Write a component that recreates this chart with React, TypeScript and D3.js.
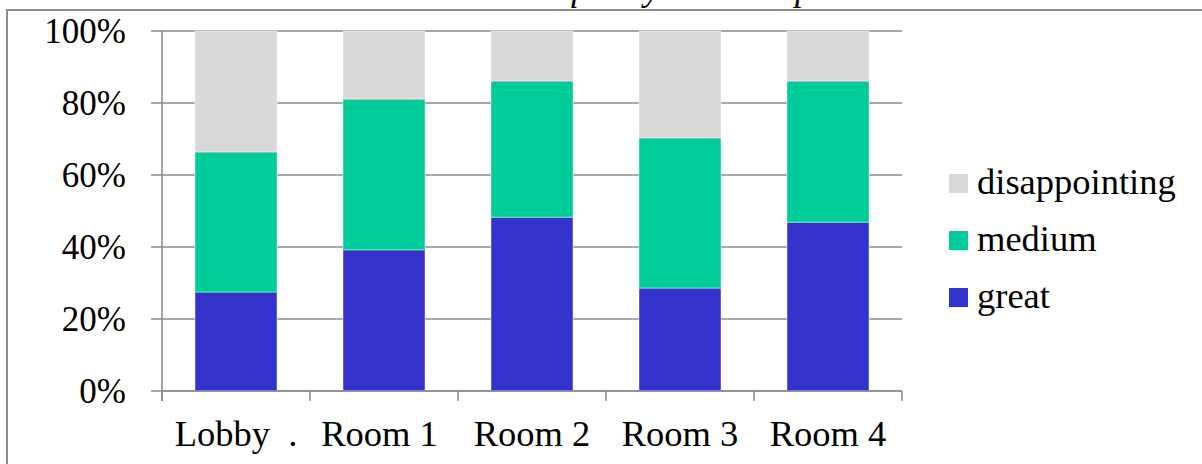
import React from "react";
import * as d3 from "d3";

const categories = ["Lobby  .", "Room 1 ", "Room 2", "Room 3", "Room 4"];
const seriesNames = ["great", "medium", "disappointing"];
const great = [27.5, 39.2, 48.3, 28.6, 46.9];
const medium = [38.9, 41.9, 37.8, 41.7, 39.2];
const disappointing = [33.6, 18.9, 13.9, 29.7, 13.9];
const seriesColors = ["#3333CC", "#00CC99", "#D9D9D9"];
const yTicks = [0, 20, 40, 60, 80, 100];
const title = "Perceived quality in each space";

const W = 1202;
const H = 464;
const plot = { left: 162, right: 902, top: 31, bottom: 391 };
const FONT = "Liberation Serif";
const AXIS = "#8c8c8c";

export default function App() {
  const x = d3
    .scaleBand<string>()
    .domain(categories)
    .range([plot.left, plot.right])
    .paddingInner(0.446)
    .paddingOuter(0.223);
  const xOuter = d3.scaleBand<string>().domain(categories).range([plot.left, plot.right]);
  const y = d3.scaleLinear().domain([0, 100]).range([plot.bottom, plot.top]);

  const rows = categories.map((c, i) => ({
    cat: c,
    great: great[i],
    medium: medium[i],
    disappointing: disappointing[i],
  }));
  const stacked = d3.stack<any>().keys(seriesNames)(rows);

  const boundaries = [...categories.map((c) => xOuter(c)!), plot.right];
  const legendItems = [...seriesNames].reverse();
  const txt = { fontFamily: FONT };

  return (
    <svg width={W} height={H} style={{ position: "absolute", left: 0, top: 0, background: "#fff" }}>
      <text x={412} y={0} fontSize={35.5} fill="#000" style={{ fontFamily: FONT, fontStyle: "italic" }}>
        {title}
      </text>
      <rect x={7} y={10} width={W} height={H} fill="none" stroke={AXIS} strokeWidth={2} />

      {yTicks.map((t) => (
        <g key={t}>
          <line x1={plot.left - 11} x2={plot.right} y1={y(t)} y2={y(t)} stroke={AXIS} strokeWidth={1.6} />
          <text x={126} y={y(t) + 12} textAnchor="end" fontSize={35} fill="#000" style={txt}>
            {t}%
          </text>
        </g>
      ))}

      {stacked.map((s, si) => (
        <g key={s.key} fill={seriesColors[si]}>
          {s.map((d, i) => (
            <rect
              key={i}
              x={x(categories[i])}
              y={y(d[1])}
              width={x.bandwidth()}
              height={y(d[0]) - y(d[1])}
              stroke="rgba(255,255,255,0.55)"
              strokeWidth={0.8}
            />
          ))}
        </g>
      ))}

      <line x1={plot.left} x2={plot.left} y1={plot.top} y2={plot.bottom + 10} stroke={AXIS} strokeWidth={1.6} />
      <line x1={plot.left} x2={plot.right} y1={plot.bottom} y2={plot.bottom} stroke={AXIS} strokeWidth={1.6} />
      {boundaries.map((b, i) => (
        <line key={i} x1={b} x2={b} y1={plot.bottom} y2={plot.bottom + 10} stroke={AXIS} strokeWidth={1.6} />
      ))}

      {categories.map((c) => (
        <text
          key={c}
          x={xOuter(c)! + xOuter.bandwidth() / 2}
          y={446}
          textAnchor="middle"
          fontSize={36.5}
          fill="#000"
          style={{ whiteSpace: "pre", fontFamily: FONT }}
        >
          {c}
        </text>
      ))}

      {legendItems.map((name, i) => (
        <g key={name} transform={`translate(949, ${174 + i * 57})`}>
          <rect width={19} height={19} fill={seriesColors[seriesNames.indexOf(name)]} />
          <text x={28} y={20} fontSize={36.5} fill="#000" style={txt}>
            {name}
          </text>
        </g>
      ))}
    </svg>
  );
}
